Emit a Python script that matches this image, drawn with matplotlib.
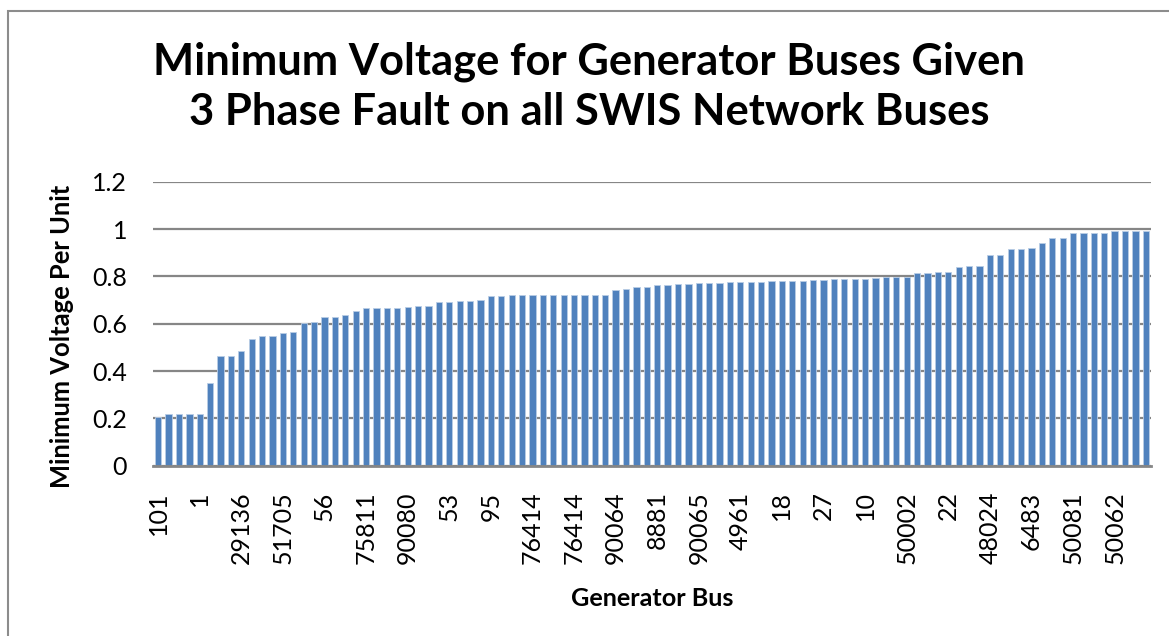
import matplotlib

matplotlib.use("Agg")

import matplotlib.pyplot as plt
from matplotlib.patches import Rectangle
from matplotlib.ticker import FuncFormatter
import numpy as np


TITLE_LINES = [
    "Minimum Voltage for Generator Buses Given",
    "3 Phase Fault on all SWIS Network Buses",
]
X_LABEL = "Generator Bus"
Y_LABEL = "Minimum Voltage Per Unit"

# one label shown for every 4th bus
bus_labels = [
    "101", "1", "29136", "51705", "56", "75811", "90080", "53",
    "95", "76414", "76414", "90064", "8881", "90065", "4961", "18",
    "27", "10", "50002", "22", "48024", "6483", "50081", "50062",
]

min_voltage = [
    0.207, 0.218, 0.218, 0.218, 0.218, 0.351, 0.464, 0.464,
    0.485, 0.537, 0.547, 0.547, 0.563, 0.566, 0.604, 0.607,
    0.628, 0.628, 0.638, 0.655, 0.666, 0.666, 0.666, 0.666,
    0.670, 0.677, 0.677, 0.691, 0.691, 0.697, 0.697, 0.701,
    0.716, 0.717, 0.723, 0.723, 0.723, 0.723, 0.723, 0.723,
    0.723, 0.723, 0.723, 0.723, 0.744, 0.746, 0.757, 0.757,
    0.765, 0.765, 0.768, 0.768, 0.772, 0.772, 0.772, 0.777,
    0.777, 0.778, 0.778, 0.782, 0.782, 0.782, 0.782, 0.786,
    0.786, 0.787, 0.787, 0.787, 0.787, 0.794, 0.798, 0.798,
    0.798, 0.816, 0.816, 0.820, 0.820, 0.841, 0.845, 0.845,
    0.889, 0.892, 0.916, 0.916, 0.922, 0.939, 0.963, 0.963,
    0.984, 0.984, 0.984, 0.984, 0.991, 0.991, 0.991, 0.991,
]

y_ticks = [0, 0.2, 0.4, 0.6, 0.8, 1.0, 1.2]

W, H = 1169, 636
BAR_COLOR = "#4F81BD"
GRID_COLOR = "#868686"


def px(x, y):
    # pixel coords (top-left origin) -> figure fraction
    return x / W, 1 - y / H


def main() -> None:
    plt.rcParams["font.family"] = ["Lato", "DejaVu Sans"]

    fig = plt.figure(figsize=(W / 100, H / 100), dpi=100)
    fig.patch.set_facecolor("white")

    left, top = px(153, 181.7)
    right, bottom = px(1151, 465.8)
    ax = fig.add_axes([left, bottom, right - left, top - bottom])

    n = len(min_voltage)
    xs = np.arange(n)
    ax.bar(xs, min_voltage, width=0.6, color=BAR_COLOR,
           edgecolor="#B9CDE5", linewidth=0.6, zorder=3)

    ax.set_xlim(-0.5, n - 0.5)
    ax.set_ylim(0, 1.2)
    ax.set_yticks(y_ticks)
    ax.yaxis.set_major_formatter(FuncFormatter(lambda v, _: "%g" % round(v, 1)))
    ax.set_xticks(xs[::4])
    ax.set_xticklabels(bus_labels, rotation=90, va="top", ha="center")

    ax.grid(axis="y", color=GRID_COLOR, linewidth=1.6, zorder=0)
    ax.tick_params(axis="both", length=0, labelsize=18, colors="black")
    ax.tick_params(axis="y", pad=18.7)
    ax.tick_params(axis="x", pad=18.5)
    for side in ("top", "right", "left"):
        ax.spines[side].set_visible(False)
    ax.spines["bottom"].set_color(GRID_COLOR)
    ax.spines["bottom"].set_linewidth(2)
    ax.spines["bottom"].set_zorder(4)

    # chart titles and axis titles
    tx, ty1 = px(589, 75)
    _, ty2 = px(589, 125)
    fig.text(tx, ty1, TITLE_LINES[0], ha="center", va="baseline",
             fontsize=31.3, fontweight="bold")
    fig.text(tx, ty2, TITLE_LINES[1], ha="center", va="baseline",
             fontsize=31.3, fontweight="bold")

    lx, ly = px(62, 336)
    fig.text(lx, ly, Y_LABEL, rotation=90, ha="center", va="center",
             fontsize=18.4, fontweight="bold")
    bx, by = px(652, 598)
    fig.text(bx, by, X_LABEL, ha="center", va="center",
             fontsize=18.2, fontweight="bold")

    # outer chart frame (runs off the right and bottom of the picture)
    fx, fy = px(8, 10.7)
    fig.add_artist(Rectangle((fx, -0.2), 1.2, fy + 0.2, transform=fig.transFigure,
                             fill=False, edgecolor="#8C8C8C", linewidth=1.5))

    fig.savefig("out.png", dpi=100)


if __name__ == "__main__":
    main()
